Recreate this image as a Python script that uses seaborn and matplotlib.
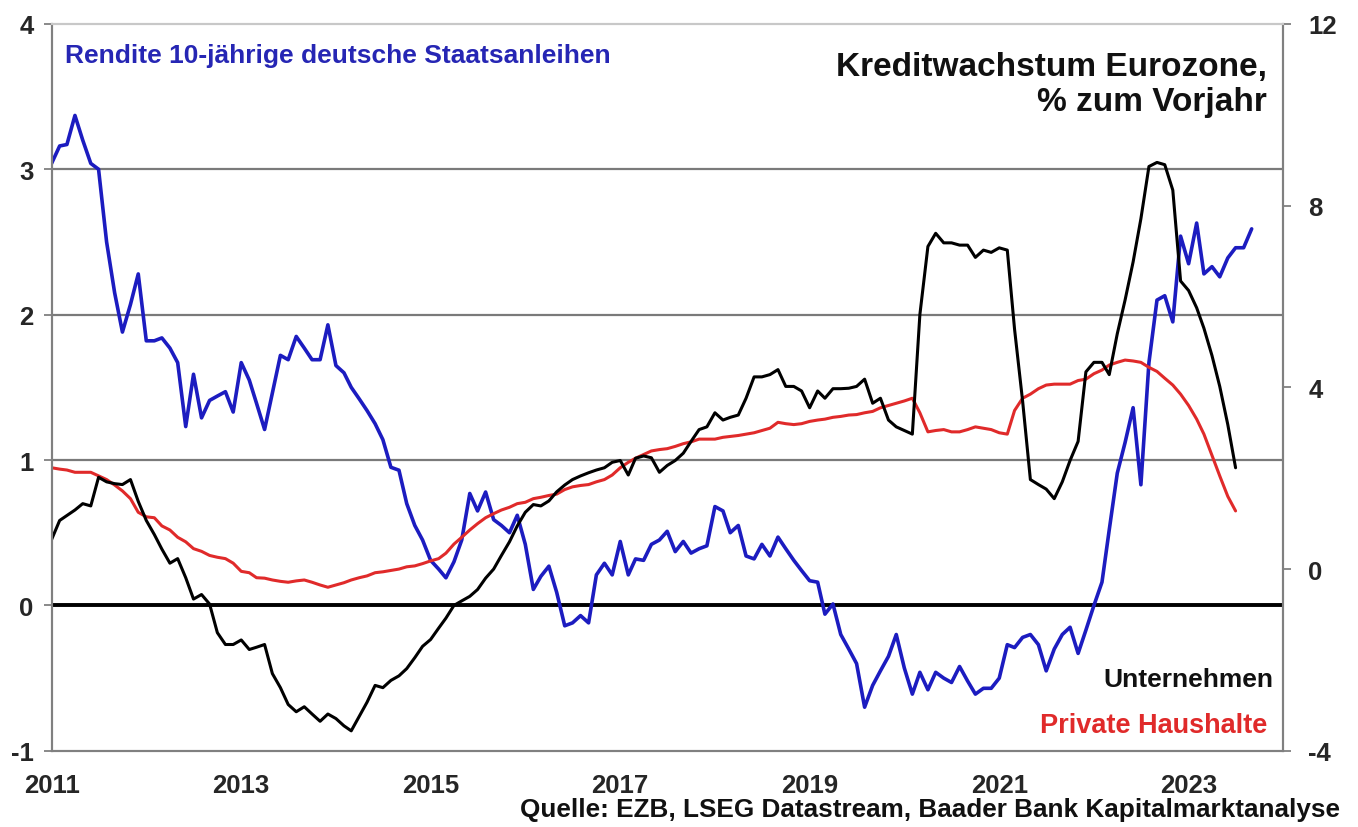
import pandas as pd
import matplotlib
matplotlib.use("Agg")
import matplotlib.pyplot as plt
import seaborn as sns

# Rendite 10-jaehrige Bunds (linke Achse), monatlich ab Jan 2011
rendite = [
    3.04, 3.16, 3.17, 3.37, 3.20, 3.04, 3.00, 2.50, 2.15, 1.88, 2.07, 2.28,
    1.82, 1.82, 1.84, 1.77, 1.67, 1.23, 1.59, 1.29, 1.41, 1.44, 1.47, 1.33,
    1.67, 1.55, 1.39, 1.21, 1.46, 1.72, 1.69, 1.85, 1.77, 1.69, 1.69, 1.93,
    1.65, 1.60, 1.50, 1.42, 1.34, 1.25, 1.14, 0.95, 0.93, 0.70, 0.55, 0.45,
    0.31, 0.25, 0.19, 0.30, 0.45, 0.77, 0.65, 0.78, 0.59, 0.55, 0.50, 0.62,
    0.42, 0.11, 0.20, 0.27, 0.09, -0.14, -0.12, -0.07, -0.12, 0.21, 0.29, 0.21,
    0.44, 0.21, 0.32, 0.31, 0.42, 0.45, 0.51, 0.37, 0.44, 0.36, 0.39, 0.41,
    0.68, 0.65, 0.50, 0.55, 0.34, 0.32, 0.42, 0.34, 0.47, 0.39, 0.31, 0.24,
    0.17, 0.16, -0.06, 0.01, -0.20, -0.30, -0.40, -0.70, -0.55, -0.45, -0.35, -0.20,
    -0.43, -0.61, -0.46, -0.58, -0.46, -0.50, -0.53, -0.42, -0.52, -0.61, -0.57, -0.57,
    -0.50, -0.27, -0.29, -0.22, -0.20, -0.27, -0.45, -0.30, -0.20, -0.15, -0.33, -0.17,
    0.00, 0.16, 0.52, 0.91, 1.12, 1.36, 0.83, 1.67, 2.10, 2.13, 1.95, 2.54,
    2.35, 2.63, 2.28, 2.33, 2.26, 2.39, 2.46, 2.46, 2.59,
]

# Kreditwachstum Unternehmen, % zum Vorjahr (rechte Achse)
unternehmen = [
    0.65, 1.07, 1.18, 1.30, 1.44, 1.39, 2.02, 1.92, 1.88, 1.86, 1.97, 1.49,
    1.07, 0.76, 0.44, 0.13, 0.23, -0.19, -0.66, -0.56, -0.77, -1.40, -1.66, -1.66,
    -1.56, -1.77, -1.72, -1.66, -2.30, -2.61, -2.98, -3.14, -3.03, -3.19, -3.35, -3.19,
    -3.29, -3.45, -3.56, -3.24, -2.93, -2.56, -2.61, -2.45, -2.35, -2.19, -1.95, -1.70,
    -1.55, -1.30, -1.08, -0.80, -0.70, -0.60, -0.45, -0.20, 0.00, 0.30, 0.60, 0.95,
    1.25, 1.42, 1.39, 1.50, 1.70, 1.85, 1.97, 2.05, 2.12, 2.18, 2.23, 2.35,
    2.39, 2.07, 2.44, 2.49, 2.45, 2.13, 2.28, 2.39, 2.55, 2.81, 3.07, 3.13,
    3.44, 3.28, 3.34, 3.39, 3.76, 4.23, 4.23, 4.28, 4.39, 4.02, 4.02, 3.92,
    3.55, 3.92, 3.76, 3.97, 3.97, 3.98, 4.02, 4.18, 3.65, 3.76, 3.28, 3.13,
    3.05, 2.97, 5.60, 7.10, 7.39, 7.18, 7.18, 7.13, 7.13, 6.86, 7.02, 6.97,
    7.07, 7.02, 5.28, 3.70, 1.97, 1.86, 1.76, 1.55, 1.92, 2.39, 2.81, 4.34,
    4.55, 4.55, 4.28, 5.18, 5.92, 6.76, 7.71, 8.86, 8.95, 8.90, 8.34, 6.34,
    6.13, 5.75, 5.30, 4.70, 4.02, 3.18, 2.23,
]

# Kreditwachstum Private Haushalte, % zum Vorjahr (rechte Achse)
haushalte = [
    2.23, 2.20, 2.18, 2.13, 2.13, 2.13, 2.05, 1.97, 1.85, 1.72, 1.55, 1.25,
    1.15, 1.13, 0.95, 0.86, 0.70, 0.60, 0.45, 0.39, 0.30, 0.26, 0.23, 0.13,
    -0.05, -0.08, -0.19, -0.20, -0.24, -0.27, -0.29, -0.26, -0.24, -0.29, -0.35, -0.40,
    -0.35, -0.30, -0.24, -0.19, -0.15, -0.08, -0.06, -0.03, 0.00, 0.05, 0.07, 0.12,
    0.18, 0.23, 0.35, 0.55, 0.70, 0.86, 1.00, 1.13, 1.22, 1.30, 1.36, 1.44,
    1.47, 1.55, 1.58, 1.62, 1.65, 1.75, 1.81, 1.84, 1.86, 1.92, 1.97, 2.07,
    2.23, 2.35, 2.44, 2.52, 2.60, 2.63, 2.65, 2.70, 2.76, 2.80, 2.86, 2.86,
    2.86, 2.90, 2.92, 2.94, 2.97, 3.00, 3.05, 3.10, 3.23, 3.20, 3.18, 3.20,
    3.25, 3.28, 3.30, 3.34, 3.36, 3.39, 3.40, 3.44, 3.47, 3.55, 3.60, 3.65,
    3.70, 3.76, 3.44, 3.02, 3.05, 3.07, 3.02, 3.02, 3.07, 3.13, 3.10, 3.07,
    3.00, 2.97, 3.49, 3.76, 3.85, 3.97, 4.05, 4.07, 4.07, 4.07, 4.15, 4.18,
    4.30, 4.38, 4.49, 4.55, 4.60, 4.58, 4.55, 4.44, 4.35, 4.20, 4.05, 3.85,
    3.60, 3.30, 2.97, 2.50, 2.05, 1.60, 1.28,
]

jahre = [2011, 2013, 2015, 2017, 2019, 2021, 2023]
ticks_links = [-1, 0, 1, 2, 3, 4]
ticks_rechts = [-4, 0, 4, 8, 12]

df_r = pd.DataFrame({
    "Datum": pd.date_range("2011-01-01", periods=len(rendite), freq="MS"),
    "Rendite": rendite,
})
df_k = pd.DataFrame({
    "Datum": pd.date_range("2011-01-01", periods=len(unternehmen), freq="MS"),
    "Unternehmen": unternehmen,
    "Private Haushalte": haushalte,
})

sns.set_style("white")
plt.rcParams["font.family"] = ["Liberation Sans", "DejaVu Sans"]
plt.rcParams["font.weight"] = "bold"

fig = plt.figure(figsize=(13.58, 8.28), dpi=100)
ax = fig.add_axes([0.038, 0.092, 0.907, 0.878])
ax2 = ax.twinx()

# Gitterlinien und Nulllinie
for y in [1, 2, 3]:
    ax.axhline(y, color="#7a7a7a", lw=1.6, zorder=1)
ax.axhline(0, color="black", lw=2.8, zorder=2)

sns.lineplot(data=df_r, x="Datum", y="Rendite", ax=ax, color="#1c1cc0", lw=2.6, zorder=3)
sns.lineplot(data=df_k, x="Datum", y="Private Haushalte", ax=ax2, color="#e02a2a", lw=2.2)
sns.lineplot(data=df_k, x="Datum", y="Unternehmen", ax=ax2, color="black", lw=2.2)

ax.set_xlim(pd.Timestamp("2011-01-01"), pd.Timestamp("2024-01-01"))
ax.set_ylim(-1, 4)
ax2.set_ylim(-4, 12)

fs_tick = 18.5
ax.set_xticks([pd.Timestamp(f"{j}-01-01") for j in jahre])
ax.set_xticklabels([str(j) for j in jahre], fontsize=fs_tick, fontweight="bold")
ax.set_yticks(ticks_links)
ax.set_yticklabels([str(t) for t in ticks_links], fontsize=fs_tick, fontweight="bold")
ax2.set_yticks(ticks_rechts)
ax2.set_yticklabels([str(t) for t in ticks_rechts], fontsize=fs_tick, fontweight="bold")

ax.set_xlabel("")
ax.set_ylabel("")
ax2.set_ylabel("")

ax.tick_params(axis="y", direction="out", length=6, width=1.3, color="#808080", pad=7)
ax.tick_params(axis="x", direction="out", length=6, width=1.3, color="#808080", pad=10)
ax2.tick_params(axis="y", direction="out", length=6, width=1.3, color="#808080", pad=12)

for a in (ax, ax2):
    for s in ["left", "bottom", "right"]:
        a.spines[s].set_color("#808080")
        a.spines[s].set_linewidth(1.5)
    a.spines["top"].set_color("#c8c8c8")
    a.spines["top"].set_linewidth(1.5)

ax.text(0.011, 0.957, "Rendite 10-jährige deutsche Staatsanleihen", transform=ax.transAxes,
        color="#2626b4", fontsize=19, fontweight="bold", va="center", ha="left")
ax.text(0.987, 0.917, "Kreditwachstum Eurozone,\n% zum Vorjahr", transform=ax.transAxes,
        color="#111111", fontsize=24, fontweight="bold", va="center", ha="right",
        multialignment="right", linespacing=1.15)
ax.text(0.992, 0.099, "Unternehmen", transform=ax.transAxes, color="#111111",
        fontsize=19, fontweight="bold", va="center", ha="right")
ax.text(0.987, 0.036, "Private Haushalte", transform=ax.transAxes, color="#e02a2a",
        fontsize=19.5, fontweight="bold", va="center", ha="right")
fig.text(0.987, 0.022, "Quelle: EZB, LSEG Datastream, Baader Bank Kapitalmarktanalyse",
         color="#111111", fontsize=18.8, fontweight="bold", va="center", ha="right")

fig.savefig("out.png", dpi=100)
